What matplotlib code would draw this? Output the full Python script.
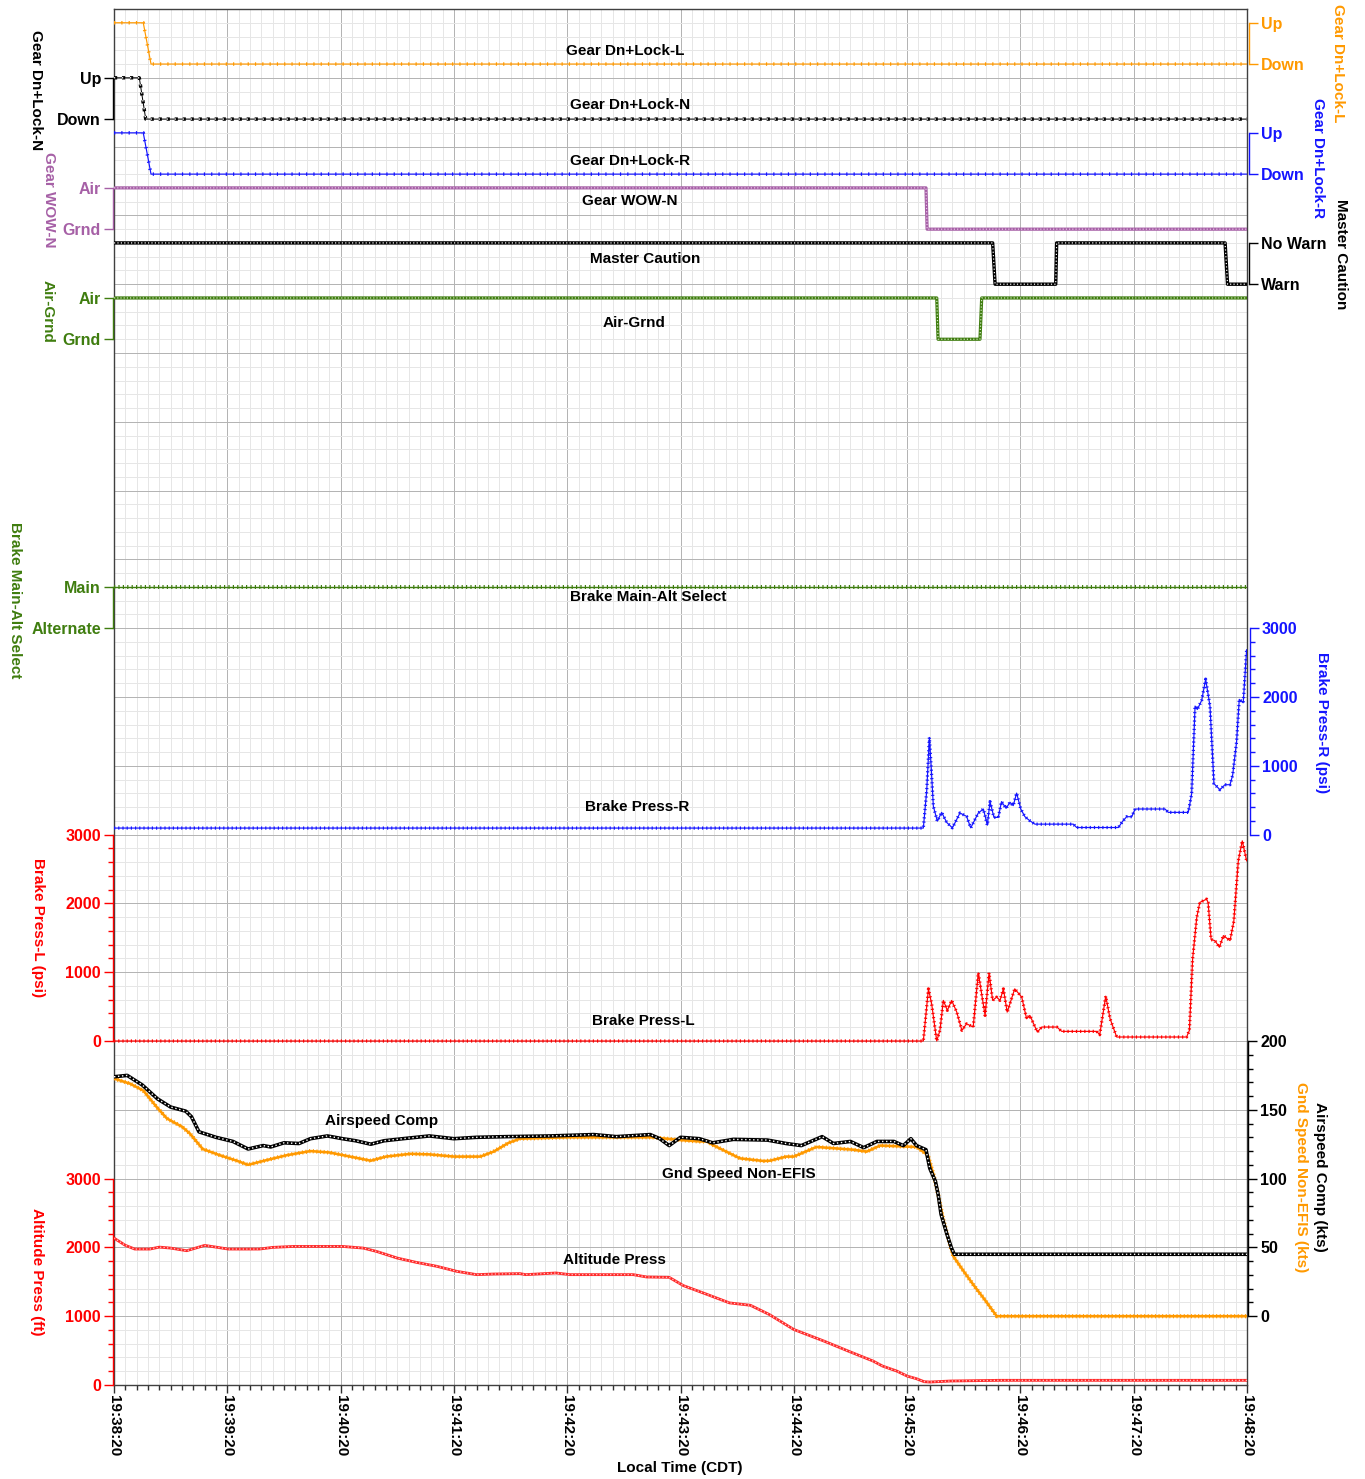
import numpy as np
import matplotlib
matplotlib.use("Agg")
import matplotlib.pyplot as plt
from matplotlib.ticker import MultipleLocator, FuncFormatter

plt.rcParams['font.family'] = ['Liberation Sans', 'DejaVu Sans']
plt.rcParams['font.weight'] = 'bold'
plt.rcParams['lines.scale_dashes'] = False

# ---- recorded parameters (time in seconds after 19:38:20) ----
gear_l_t = [0, 15.5, 19.6, 600]
gear_l_v = [1, 1, 0, 0]            # 1 = Up, 0 = Down
gear_n_t = [0, 13.4, 16.8, 600]
gear_n_v = [1, 1, 0, 0]
gear_r_t = [0, 15.5, 19.6, 600]
gear_r_v = [1, 1, 0, 0]
wow_t = [0, 430.0, 430.6, 600]
wow_v = [1, 1, 0, 0]               # 1 = Air, 0 = Grnd
caution_t = [0, 465.3, 466.6, 498.7, 499.2, 588.4, 589.7, 600]
caution_v = [1, 1, 0, 0, 1, 1, 0, 0]   # 1 = No Warn, 0 = Warn
airgnd_t = [0, 435.7, 436.4, 458.6, 459.5, 600]
airgnd_v = [1, 1, 0, 0, 1, 1]      # 1 = Air, 0 = Grnd
brake_sel_t = [0, 600]
brake_sel_v = [1, 1]               # 1 = Main, 0 = Alternate

brake_r_t = [0, 428.6, 430.4, 431.8, 432.7, 433.9, 436, 438.3, 441, 444, 448,
             451.5, 453.7, 457.7, 460.4, 462.5, 463.9, 466, 468.3, 470, 472.4,
             474.5, 476.2, 478, 480.2, 482.4, 485, 487.7, 508, 509.8, 531.9,
             534.2, 536.3, 539, 540.7, 556.6, 558.3, 568.9, 570.7, 572.5, 573.7,
             576, 578.1, 580.4, 582.5, 585.7, 588.3, 591, 592.4, 594.5, 595.9,
             598, 599.8]
brake_r_psi = [95, 95, 642, 1412, 1010, 412, 196, 323, 176, 98, 314,
               265, 98, 314, 372, 137, 480, 250, 250, 480, 382,
               470, 421, 603, 372, 260, 201, 152, 152, 103, 103,
               196, 260, 260, 372, 372, 323, 323, 593, 1868, 1819,
               1951, 2260, 1868, 740, 652, 725, 725, 863, 1353, 1966,
               1916, 2686]

brake_l_t = [0, 428.6, 431.3, 433, 435.7, 437.4, 439.2, 441.3, 443.6, 446.3,
             449, 451.5, 455, 457.7, 461.3, 463.4, 465.3, 467.4, 469.2, 471,
             473, 477, 480.7, 483.3, 485, 489, 491.3, 499.3, 501.9, 520.4, 522,
             525.2, 527.5, 531, 568, 569.5, 571.2, 573.4, 575, 578.6, 579.4,
             581, 583, 585.4, 587.5, 591, 593, 595.4, 597.5, 599.8]
brake_l_psi = [0, 0, 758, 541, 0, 155, 590, 445, 590, 420,
               155, 250, 203, 990, 372, 990, 590, 638, 590, 758,
               420, 758, 638, 323, 372, 130, 203, 203, 140, 140, 91,
               652, 323, 58, 58, 155, 1193, 1797, 2014, 2062, 2014,
               1474, 1459, 1362, 1532, 1459, 1735, 2619, 2909, 2619]

airspeed_t = [0, 7, 15, 23, 30, 38, 41, 45, 54, 63, 71, 79, 83, 90, 98, 104,
              113, 121, 128, 136, 143, 153, 167, 180, 192, 208, 231, 254, 266,
              284, 289, 294, 300, 310, 317, 328, 346, 356, 364, 375, 381, 390,
              397, 404, 413, 418, 422, 425, 430, 432, 435, 436.5, 438, 441,
              443.5, 445, 600]
airspeed_kts = [174, 175, 168, 158, 152, 149, 145, 134, 130, 127, 121.5, 124,
                123, 126, 125.5, 129, 131, 129, 127.5, 125, 127.5, 129, 131,
                129, 130, 130.5, 131, 132, 130.5, 132, 129, 124, 130, 129, 126,
                128.5, 128, 125.5, 124, 130.5, 125.5, 127, 122.5, 127, 127, 124,
                129, 124, 121, 107.5, 98, 88, 74, 60, 49.5, 45, 45]

gndspeed_t = [0, 8.5, 15.5, 22.6, 28, 36, 40, 47, 56, 65, 71, 81, 91.5, 104,
              114, 125, 136, 144, 157, 167, 180, 194, 201, 209, 215, 240, 285,
              300, 310, 314, 317, 331.5, 344, 347.4, 356, 360, 372, 391.5,
              398.6, 405.7, 425, 431, 434, 436.5, 439, 442.7, 444.5, 450, 455,
              460.4, 467.5, 600]
gndspeed_kts = [172.7, 169, 164, 152, 143.7, 137.7, 133, 121.5, 117, 113, 110,
                113.5, 117, 120, 119, 116, 113, 116, 118, 117.6, 116, 116,
                119.6, 126, 129, 130, 130, 128, 127, 127, 124.5, 114.7, 112.8,
                113, 116, 116, 123, 121, 119.6, 124, 123, 117, 102.7, 88, 71,
                52, 43.5, 32.6, 23, 13.3, 0, 0]

altitude_t = [0, 6, 11, 19, 24, 30, 38.5, 48, 54, 60.5, 77, 84, 95, 121, 132,
              139, 150, 160, 171, 181.5, 192, 201, 215, 218, 234, 241.5, 275,
              282, 294, 301.5, 312, 326, 337, 347, 360, 376, 390, 402, 407,
              414.5, 420, 425, 429, 432, 443, 469, 600]
altitude_ft = [2135, 2030, 1976, 1976, 2004, 1990, 1952, 2029, 2004, 1976, 1976,
               2000, 2014, 2014, 1990, 1942, 1845, 1783, 1725, 1652, 1604, 1613,
               1619, 1604, 1628, 1604, 1604, 1570, 1565, 1445, 1338, 1193, 1159,
               1025, 807, 638, 480, 348, 275, 203, 130, 91, 48, 43, 58, 68, 68]

ORANGE = '#ff9900'
BLUE = '#1414ff'
PURPLE = '#a660a6'
GREEN = '#3f7d0f'
RED = '#ff0000'
BLACK = '#000000'

W, H = 1365, 1479
PX = 0.72  # points per pixel at 100 dpi

fig = plt.figure(figsize=(W / 100, H / 100), dpi=100)
L, R, T, B = 114, 1247, 9, 1385
ax = fig.add_axes([L / W, 1 - B / H, (R - L) / W, (B - T) / H])
ax.set_xlim(0, 600)
ax.set_ylim(0, 20)
ax.xaxis.set_major_locator(MultipleLocator(60))
ax.xaxis.set_minor_locator(MultipleLocator(6))
ax.yaxis.set_major_locator(MultipleLocator(1))
ax.yaxis.set_minor_locator(MultipleLocator(0.2))
ax.grid(which='minor', color='#e6e6e6', lw=1 * PX)
ax.grid(which='major', color='#b4b4b4', lw=1 * PX)
ax.set_axisbelow(True)
for sp in ax.spines.values():
    sp.set_color('#404040')
    sp.set_linewidth(1)


def clock(t, pos=None):
    s = 19 * 3600 + 38 * 60 + 20 + int(round(t))
    return f"{s // 3600}:{s % 3600 // 60:02d}:{s % 60:02d}"


ax.xaxis.set_major_formatter(FuncFormatter(clock))
ax.tick_params(axis='x', which='major', length=8 * PX, width=1, color='#303030',
               pad=2 * PX, labelsize=11, labelrotation=-90)
ax.tick_params(axis='x', which='minor', length=5 * PX, width=1, color='#303030')


def overlay(side, base, per_unit, ticks, color, labels=None, minor=None, shift=1):
    a = ax.twinx()
    a.set_ylim(-base * per_unit, (20 - base) * per_unit)
    for sp in a.spines.values():
        sp.set_visible(False)
    sp = a.spines[side]
    sp.set_visible(True)
    sp.set_color(color)
    sp.set_linewidth(1)
    sp.set_bounds(ticks[0], ticks[-1])
    sp.set_position(('outward', shift * PX))
    if side == 'left':
        a.yaxis.tick_left()
    else:
        a.yaxis.tick_right()
    a.set_yticks(ticks)
    if labels is not None:
        a.set_yticklabels(labels)
    if minor is not None:
        a.set_yticks(np.arange(ticks[0], ticks[-1] + minor / 2, minor), minor=True)
    a.tick_params(axis='y', which='major', length=9 * PX, width=1, colors=color,
                  pad=3 * PX, labelsize=11.5)
    a.tick_params(axis='y', which='minor', length=5 * PX, width=1, colors=color)
    return a


def draw(a, t, v, color, core, bead=None, dots=None):
    a.plot(t, v, color=color, lw=core * PX, solid_joinstyle='round')
    if bead:
        w, on, off = bead
        a.plot(t, v, color=color, lw=w * PX, ls=(0, (on * PX, off * PX)))
    if dots:
        c, w, on, off = dots
        a.plot(t, v, color=c, lw=w * PX, ls=(0, (on * PX, off * PX)))


D = 0.6  # height of a two-state trace, in grid units
a = overlay('right', 19.2, 1 / D, [0, 1], ORANGE, ['Down', 'Up'], shift=2)
draw(a, gear_l_t, gear_l_v, ORANGE, 1.2, bead=(3.5, 1.2, 6.1))

a = overlay('left', 18.4, 1 / D, [0, 1], BLACK, ['Down', 'Up'])
draw(a, gear_n_t, gear_n_v, BLACK, 1.0, bead=(3.4, 3.2, 4.8), dots=('white', 1.4, 1.2, 6.8))

a = overlay('right', 17.6, 1 / D, [0, 1], BLUE, ['Down', 'Up'], shift=2)
draw(a, gear_r_t, gear_r_v, BLUE, 1.2, bead=(3.5, 1.2, 6.1))

a = overlay('left', 16.8, 1 / D, [0, 1], PURPLE, ['Grnd', 'Air'])
draw(a, wow_t, wow_v, PURPLE, 3.2, dots=('#ecc8ec', 1.2, 1.2, 2.0))

a = overlay('right', 16.0, 1 / D, [0, 1], BLACK, ['Warn', 'No Warn'], shift=2)
draw(a, caution_t, caution_v, BLACK, 3.4, dots=('white', 1.2, 1.2, 2.2))

a = overlay('left', 15.2, 1 / D, [0, 1], GREEN, ['Grnd', 'Air'])
draw(a, airgnd_t, airgnd_v, GREEN, 3.2, dots=('#d8ecc8', 1.2, 1.2, 2.0))

a = overlay('left', 11.0, 1 / D, [0, 1], GREEN, ['Alternate', 'Main'])
draw(a, brake_sel_t, brake_sel_v, GREEN, 1.4, bead=(4, 1.2, 3.2))

a = overlay('right', 8.0, 1000, [0, 1000, 2000, 3000], BLUE, minor=200, shift=3)
draw(a, brake_r_t, brake_r_psi, BLUE, 1.2, bead=(3.2, 1.2, 3.0))

a = overlay('left', 5.0, 1000, [0, 1000, 2000, 3000], RED, minor=200)
draw(a, brake_l_t, brake_l_psi, RED, 1.2, bead=(3.2, 1.2, 3.0))

a = overlay('right', 1.0, 50, [0, 50, 100, 150, 200], BLACK, minor=10, shift=1)
draw(a, gndspeed_t, gndspeed_kts, ORANGE, 2.6, bead=(4.2, 1.0, 2.6))
draw(a, airspeed_t, airspeed_kts, BLACK, 3.6, dots=('white', 1.4, 1.4, 2.6))

a = overlay('left', 0.0, 1000, [0, 1000, 2000, 3000], RED, minor=200)
draw(a, altitude_t, altitude_ft, '#ff2a2a', 2.8, dots=('#ffc8c8', 1.2, 1.3, 2.2))

# the base axes carry only the grid and the time axis
ax.tick_params(axis='y', which='both', left=False, right=False,
               labelleft=False, labelright=False)


def ftext(x, y, s, color=BLACK, rot=0, **kw):
    fig.text(x / W, 1 - y / H, s, color=color, rotation=rot, ha='center',
             va='center', fontsize=11, fontweight='bold', **kw)


# trace names inside the plot
ftext(625, 51, 'Gear Dn+Lock-L')
ftext(630, 105, 'Gear Dn+Lock-N')
ftext(630, 161, 'Gear Dn+Lock-R')
ftext(630, 201, 'Gear WOW-N')
ftext(645, 259, 'Master Caution')
ftext(634, 323, 'Air-Grnd')
ftext(648, 597, 'Brake Main-Alt Select')
ftext(637, 807, 'Brake Press-R')
ftext(643, 1021, 'Brake Press-L')
ftext(382, 1121, 'Airspeed Comp')
ftext(739, 1174, 'Gnd Speed Non-EFIS')
ftext(614, 1260, 'Altitude Press')

# axis titles
ftext(36, 90, 'Gear Dn+Lock-N', BLACK, -90)
ftext(49, 200, 'Gear WOW-N', PURPLE, -90)
ftext(48, 311, 'Air-Grnd', GREEN, -90)
ftext(15, 600, 'Brake Main-Alt Select', GREEN, -90)
ftext(38, 928, 'Brake Press-L (psi)', RED, -90)
ftext(37, 1272, 'Altitude Press (ft)', RED, -90)
ftext(1338, 63, 'Gear Dn+Lock-L', ORANGE, -90)
ftext(1318, 158, 'Gear Dn+Lock-R', BLUE, -90)
ftext(1341, 254, 'Master Caution', BLACK, -90)
ftext(1322, 723, 'Brake Press-R (psi)', BLUE, -90)
ftext(1320, 1177, 'Airspeed Comp (kts)', BLACK, -90)
ftext(1301, 1177, 'Gnd Speed Non-EFIS (kts)', ORANGE, -90)
ftext(680, 1468, 'Local Time (CDT)')

fig.savefig('out.png', dpi=100, facecolor='white')
